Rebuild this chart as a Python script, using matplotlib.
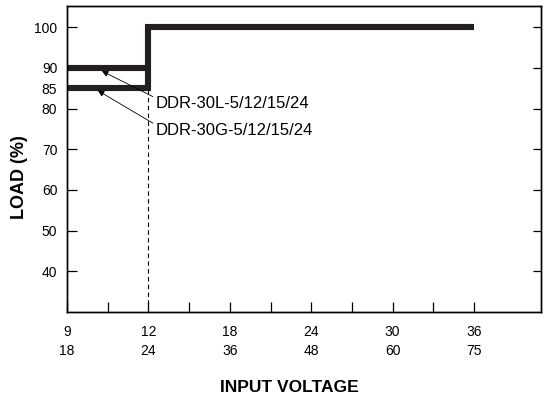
import matplotlib
matplotlib.use('Agg')
import matplotlib.pyplot as plt

plt.rcParams['font.family'] = ['Liberation Sans', 'DejaVu Sans']

# x positions are in "tick steps": 9V/18V -> 0, 12V/24V -> 1, 18V/36V -> 2, ...
x_ticks = [0, 1, 2, 3, 4, 5]
x_low = ['9', '12', '18', '24', '30', '36']
x_high = ['18', '24', '36', '48', '60', '75']
x_minor = [0.5, 1.5, 2.5, 3.5, 4.5]

y_ticks = [40, 50, 60, 70, 80, 85, 90, 100]
y_right_ticks = [40, 50, 60, 70, 80, 90, 100]

# derating curves
l_x = [0, 1]
l_y = [90, 90]
g_x = [0, 1, 1, 5]
g_y = [85, 85, 100, 100]

labels = ['DDR-30L-5/12/15/24', 'DDR-30G-5/12/15/24']
arrow_heads = [(0.43, 89.2), (0.38, 84.4)]
text_pos = [(1.09, 81.3), (1.09, 74.7)]

dark = '#231f20'

fig = plt.figure(figsize=(5.44, 4.08), dpi=100)
ax = fig.add_axes([67/544, 1-312/408, 474/544, 306/408])

ax.plot(l_x, l_y, color=dark, lw=4.4, solid_capstyle='butt', clip_on=False, zorder=3)
ax.plot(g_x, g_y, color=dark, lw=4.4, solid_capstyle='butt', solid_joinstyle='miter', clip_on=False, zorder=3)
ax.plot([1, 1], [30, 85], color='black', lw=0.8, ls=(0, (4, 3)), zorder=2)

for lab, head, pos in zip(labels, arrow_heads, text_pos):
	ax.annotate(lab, xy=head, xytext=pos, fontsize=12, va='center', ha='left',
		arrowprops=dict(arrowstyle='-|>', color='black', lw=0.6, mutation_scale=9,
			shrinkA=0, shrinkB=0, relpos=(0, 0.85)))

ax.set_xlim(0, 474/81.4)
ax.set_ylim(30, 105.2)

ax.set_xticks(x_ticks)
ax.set_xticklabels([a + '\n' + b for a, b in zip(x_low, x_high)], linespacing=1.5)
ax.set_xticks(x_minor, minor=True)
ax.tick_params(axis='x', which='both', direction='in', length=7, width=0.9, pad=9, labelsize=10)
ax.set_yticks(y_ticks)
ax.set_yticklabels([str(v) for v in y_ticks])
ax.tick_params(axis='y', direction='in', length=7, width=0.9, pad=7, labelsize=10)

ax2 = ax.twinx()
ax2.set_ylim(ax.get_ylim())
ax2.set_yticks(y_right_ticks)
ax2.set_yticklabels([])
ax2.tick_params(axis='y', direction='in', length=6, width=0.9)

for a in (ax, ax2):
	for s in a.spines.values():
		s.set_linewidth(1.0)

fig.text(19/544, 1-177/408, 'LOAD (%)', rotation=90, fontsize=13, fontweight='bold', ha='center', va='center')
fig.text(289/544, 1-387/408, 'INPUT VOLTAGE', fontsize=12.5, fontweight='bold', ha='center', va='center')

fig.savefig('out.png', dpi=100)
